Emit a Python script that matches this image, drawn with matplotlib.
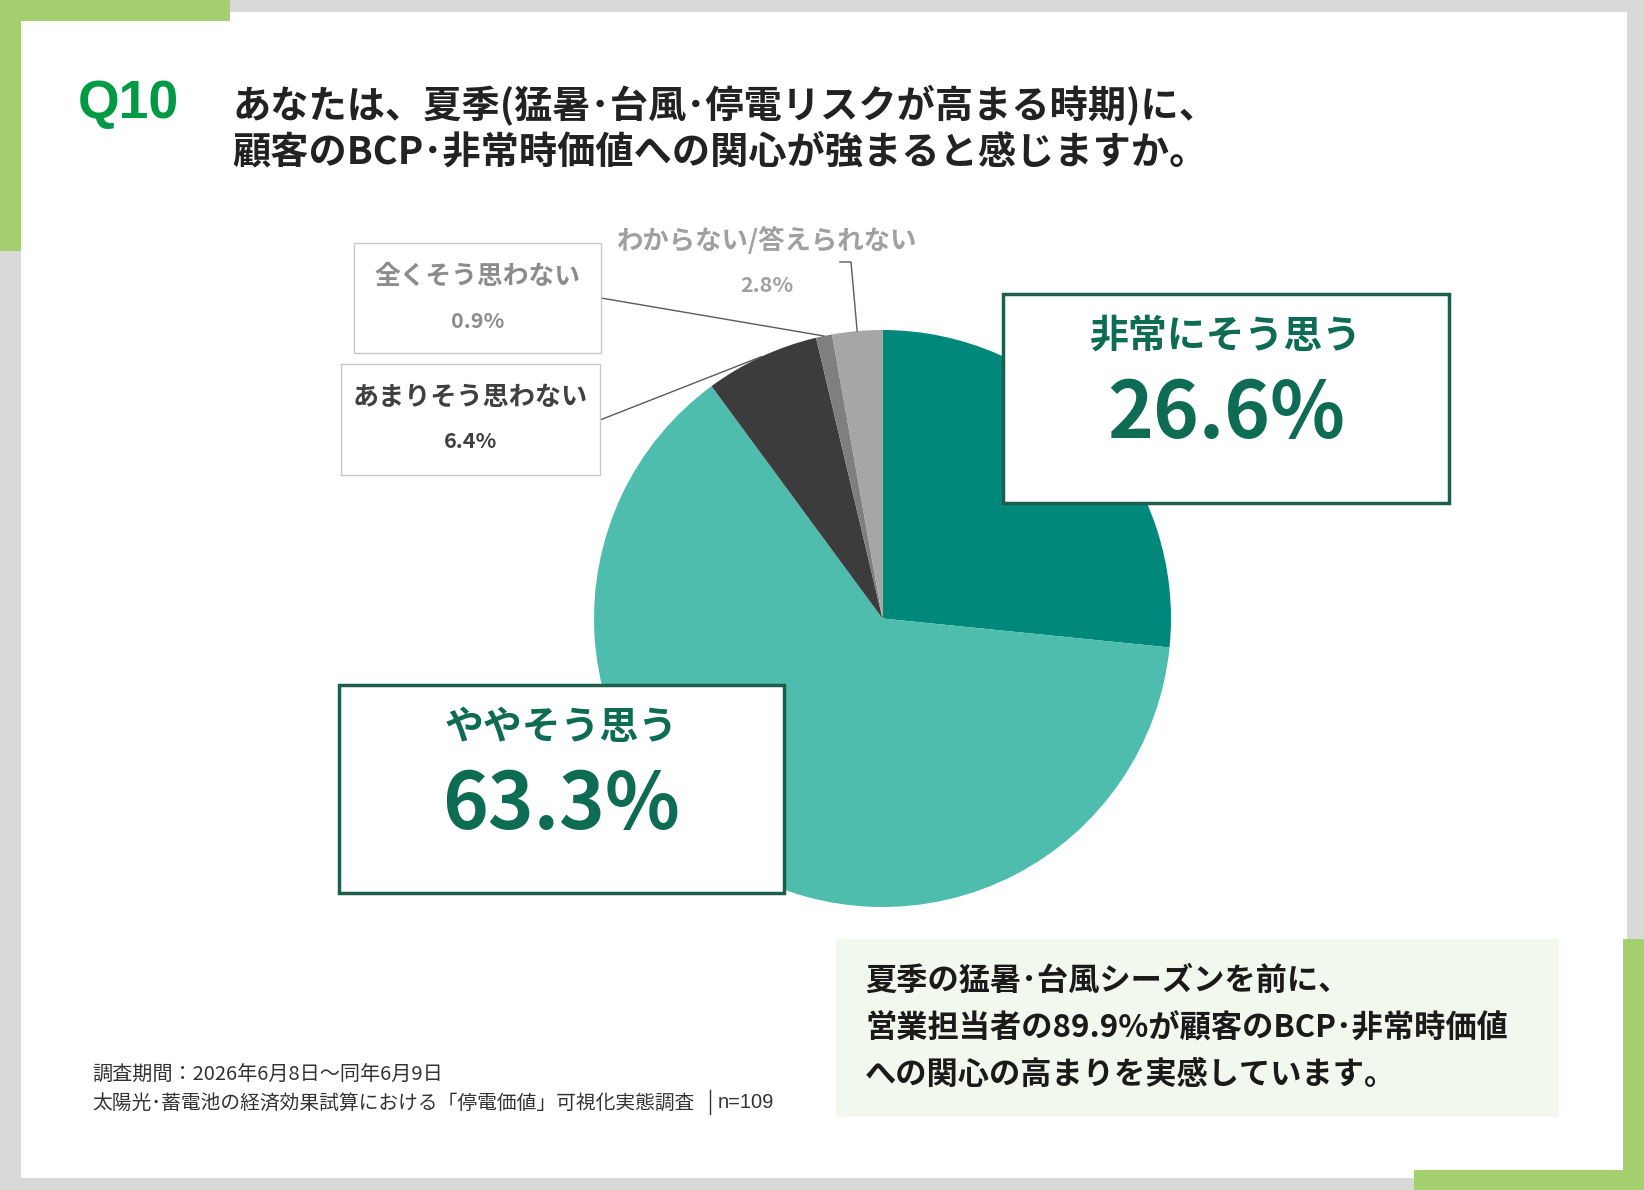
import numpy as np
import matplotlib
matplotlib.use("Agg")
import matplotlib.pyplot as plt
from matplotlib.patches import Rectangle

plt.rcParams['font.family'] = ['Noto Sans CJK JP', 'DejaVu Sans']

# ---------------- data ----------------
categories = ["非常にそう思う", "ややそう思う", "あまりそう思わない", "全くそう思わない", "わからない/答えられない"]
values = [26.6, 63.3, 6.4, 0.9, 2.8]
colors = ["#00897a", "#4fbdae", "#3c3c3c", "#7f7f7f", "#a6a6a6"]

question_no = "Q10"
title_lines = ["あなたは、夏季(猛暑･台風･停電リスクが高まる時期)に、",
               "顧客のBCP･非常時価値への関心が強まると感じますか。"]
summary_lines = ["夏季の猛暑･台風シーズンを前に、",
                 "営業担当者の89.9%が顧客のBCP･非常時価値",
                 "への関心の高まりを実感しています。"]
footer_lines = ["調査期間：2026年6月8日～同年6月9日",
                "太陽光･蓄電池の経済効果試算における「停電価値」可視化実態調査"]
sample_note = "n=109"

# ---------------- figure ----------------
W, H = 1644, 1190
fig = plt.figure(figsize=(W / 100, H / 100), dpi=100, facecolor="#d9d9d9")

bg = fig.add_axes([0, 0, 1, 1], zorder=0)
bg.set_xlim(0, W); bg.set_ylim(H, 0); bg.axis("off")
bg.add_patch(Rectangle((21, 12), 1606, 1166, facecolor="white", edgecolor="none"))
green = "#a5d070"
bg.add_patch(Rectangle((0, 0), 230, 21, facecolor=green, edgecolor="none"))
bg.add_patch(Rectangle((0, 0), 21, 251, facecolor=green, edgecolor="none"))
bg.add_patch(Rectangle((1623, 939), 21, 251, facecolor=green, edgecolor="none"))
bg.add_patch(Rectangle((1414, 1170), 230, 20, facecolor=green, edgecolor="none"))

# ---------------- pie ----------------
pie_left, pie_top, pie_size = 594, 330, 577
axp = fig.add_axes([pie_left / W, 1 - (pie_top + pie_size) / H, pie_size / W, pie_size / H], zorder=1)
wedges, _ = axp.pie(values, colors=colors, startangle=90, counterclock=False,
                    wedgeprops=dict(linewidth=0))
axp.set_xlim(-1, 1); axp.set_ylim(-1, 1)
axp.set_aspect("equal"); axp.axis("off")

# ---------------- overlay ----------------
ov = fig.add_axes([0, 0, 1, 1], zorder=2)
ov.set_xlim(0, W); ov.set_ylim(H, 0); ov.axis("off")
ov.patch.set_alpha(0)

def wedge_mid(i):
    w = wedges[i]
    ang = np.deg2rad((w.theta1 + w.theta2) / 2)
    disp = axp.transData.transform((np.cos(ang), np.sin(ang)))
    return ov.transData.inverted().transform(disp)

# title
ov.text(78, 104, question_no, fontsize=38.5, fontweight="bold", color="#009a44",
        family=["Liberation Sans", "DejaVu Sans"], va="center", ha="left")
ov.text(232, 105, title_lines[0], fontsize=27.5, fontweight="bold", color="#222222", va="center", ha="left")
ov.text(232, 152, title_lines[1], fontsize=27.5, fontweight="bold", color="#222222", va="center", ha="left")

# big boxes
dark_green = "#0e6b54"
box_edge = "#1e5e4c"
for (x0, y0, x1, y1), idx in [((1003, 294, 1449, 503), 0), ((339, 685, 784, 893), 1)]:
    ov.add_patch(Rectangle((x0, y0), x1 - x0, y1 - y0, facecolor="white",
                           edgecolor=box_edge, linewidth=2.5, zorder=3))
    cx = (x0 + x1) / 2
    ov.text(cx, y0 + 42, categories[idx], fontsize=28, fontweight="bold", color=dark_green,
            ha="center", va="center", zorder=4)
    ov.text(cx, y0 + 121, f"{values[idx]:.1f}%", fontsize=56, fontweight="bold", color=dark_green,
            ha="center", va="center", zorder=4)

# small labels with boxes
small = [((354, 243, 601, 353), 3, "#8c8c8c", 18.5), ((341, 364, 600, 475), 2, "#404040", 18.8)]
for (x0, y0, x1, y1), idx, col, fs in small:
    ov.add_patch(Rectangle((x0, y0), x1 - x0, y1 - y0, facecolor="white",
                           edgecolor="#c8c8c8", linewidth=1, zorder=3))
    cx = (x0 + x1) / 2
    ov.text(cx, y0 + 33, categories[idx], fontsize=fs, fontweight="bold", color=col,
            ha="center", va="center", zorder=4)
    ov.text(cx, y0 + 78, f"{values[idx]:.1f}%", fontsize=15.5, fontweight="bold", color=col,
            ha="center", va="center", zorder=4)

# no-box label
ov.text(767, 241, categories[4], fontsize=19, fontweight="bold", color="#a0a0a0",
        ha="center", va="center", zorder=4)
ov.text(767, 285, f"{values[4]:.1f}%", fontsize=15.5, fontweight="bold", color="#a0a0a0",
        ha="center", va="center", zorder=4)

# leader lines
lc = "#5a5a5a"
m3 = wedge_mid(3); m2 = wedge_mid(2); m4 = wedge_mid(4)
ov.plot([601, m3[0]], [298, m3[1]], color=lc, lw=1, zorder=2)
ov.plot([600, m2[0]], [420, m2[1]], color=lc, lw=1, zorder=2)
ov.plot([840, 851, m4[0]], [262, 262, m4[1]], color=lc, lw=1, zorder=2)

# summary box
ov.add_patch(Rectangle((836, 939), 723, 178, facecolor="#f3f8ee", edgecolor="none", zorder=1))
for i, line in enumerate(summary_lines):
    ov.text(865, 981 + i * 47, line, fontsize=22.5, fontweight="bold", color="#1a1a1a",
            ha="left", va="center", zorder=4)

# footer
ov.text(92, 1075, footer_lines[0], fontsize=14.5, color="#333333", ha="left", va="center")
ov.text(92, 1103, footer_lines[1], fontsize=14.2, color="#333333", ha="left", va="center")
ov.plot([710, 710], [1090, 1114], color="#333333", lw=1)
ov.text(718, 1103, sample_note, fontsize=14.5, color="#333333", ha="left", va="center",
        family=["Liberation Sans", "DejaVu Sans"])

fig.savefig("out.png", dpi=100, facecolor=fig.get_facecolor())
